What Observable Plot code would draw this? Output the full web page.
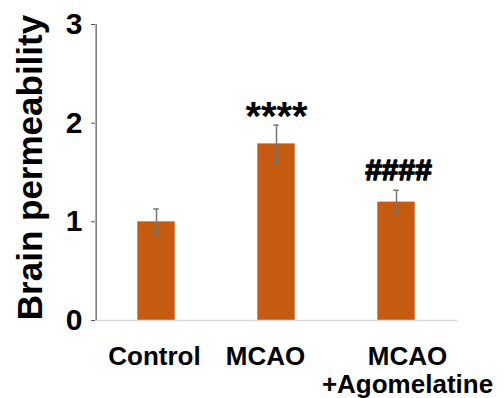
<!DOCTYPE html>
<html>
<head>
<meta charset="utf-8">
<script src="https://cdn.jsdelivr.net/npm/d3@7"></script>
<script src="https://cdn.jsdelivr.net/npm/@observablehq/plot@0.6"></script>
<style>
  body { margin: 0; background: #fff; }
  svg { font-family: "Liberation Sans", Arial, sans-serif; }
</style>
</head>
<body>
<div id="chart"></div>
<script>
const categories = ["Control", "MCAO", "MCAO\n+Agomelatine"];
const means = [1.0, 1.79, 1.2];
const errors = [0.13, 0.19, 0.12];
const marks = ["", "****", "####"];
const yTicks = [0, 1, 2, 3];

const data = categories.map((c, i) => ({cat: c, mean: means[i], err: errors[i], mark: marks[i]}));

const font = "Liberation Sans, Arial, sans-serif";
const labelOffsets = [-2, -11, 11];

const plot = Plot.plot({
  width: 504,
  height: 398,
  marginLeft: 95,
  marginRight: 47,
  marginTop: 24,
  marginBottom: 78,
  style: {fontFamily: font, background: "#fff"},
  x: {domain: categories, padding: 0, axis: null},
  y: {domain: [0, 3], axis: null},
  marks: [
    Plot.barY(data, {x: "cat", y: "mean", fill: "#c55a11", insetLeft: 41.3, insetRight: 41.3}),
    Plot.ruleY([0], {stroke: "#d9d9d9", strokeWidth: 1.5}),
    Plot.axisY({
      ticks: yTicks, tickSize: 4, tickPadding: 9, fontSize: 30, fontWeight: "bold",
      fill: "#000", stroke: "#555", label: null, tickFormat: d => String(d)
    }),
    Plot.ruleX([0], {x: () => categories[0], frameAnchor: "left", stroke: "#555", strokeWidth: 1.2, y1: 0, y2: 3, dx: -60.35}),
    Plot.ruleX(data, {x: "cat", y1: d => d.mean - d.err, y2: d => d.mean + d.err, stroke: "#777", strokeWidth: 1.5}),
    Plot.tickY(data, {x: "cat", y: d => d.mean + d.err, stroke: "#777", strokeWidth: 1.5, insetLeft: 57.3, insetRight: 57.3}),
    Plot.tickY(data, {x: "cat", y: d => d.mean - d.err, stroke: "#777", strokeWidth: 1.5, insetLeft: 57.3, insetRight: 57.3}),
    Plot.text(data.filter(d => d.mark === "****"), {x: "cat", y: d => d.mean + d.err, text: "mark", lineAnchor: "bottom", dy: 5, fontSize: 40, fontWeight: "bold", fill: "#000"}),
    Plot.text(data.filter(d => d.mark === "####"), {x: "cat", y: d => d.mean + d.err, text: "mark", lineAnchor: "bottom", dy: -10, dx: 2, fontSize: 30, fontWeight: "bold", fill: "#000", stroke: "#000", strokeWidth: 1.3}),
    ...categories.map((c, i) => Plot.axisX({
      ticks: [c], tickSize: 0, tickPadding: 25, lineAnchor: "top", lineHeight: 1.06,
      fontSize: 26, fontWeight: "bold", fill: "#000", dx: labelOffsets[i], label: null
    })),
    Plot.text(["Brain permeability"], {
      frameAnchor: "left", text: d => d, rotate: -90, dx: -65, dy: -5,
      fontSize: 35, fontWeight: "bold", fill: "#000", textAnchor: "middle", lineAnchor: "middle"
    })
  ]
});
document.getElementById("chart").appendChild(plot);
</script>
</body>
</html>
